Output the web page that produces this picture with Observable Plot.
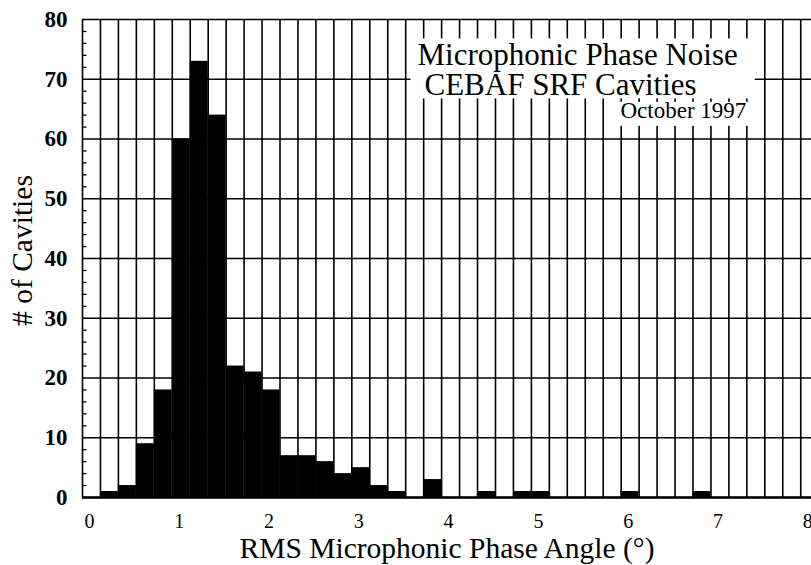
<!DOCTYPE html>
<html>
<head>
<meta charset="utf-8">
<script src="https://cdn.jsdelivr.net/npm/d3@7"></script>
<script src="https://cdn.jsdelivr.net/npm/@observablehq/plot@0.6"></script>
<style>
html, body { margin: 0; padding: 0; background: #fff; overflow: hidden; }
</style>
</head>
<body>
<div id="chart"></div>
<script>
// ---- data ----
const binLower = [0.0,0.2,0.4,0.6,0.8,1.0,1.2,1.4,1.6,1.8,2.0,2.2,2.4,2.6,2.8,3.0,3.2,3.4,3.6,3.8,
                  4.0,4.2,4.4,4.6,4.8,5.0,5.2,5.4,5.6,5.8,6.0,6.2,6.4,6.6,6.8,7.0,7.2,7.4,7.6,7.8];
const binUpper = [0.2,0.4,0.6,0.8,1.0,1.2,1.4,1.6,1.8,2.0,2.2,2.4,2.6,2.8,3.0,3.2,3.4,3.6,3.8,4.0,
                  4.2,4.4,4.6,4.8,5.0,5.2,5.4,5.6,5.8,6.0,6.2,6.4,6.6,6.8,7.0,7.2,7.4,7.6,7.8,8.0];
const counts   = [0,1,2,9,18,60,73,64,22,21,18,7,7,6,4,5,2,1,0,3,
                  0,0,1,0,1,1,0,0,0,0,1,0,0,0,1,0,0,0,0,0];
const binEdges = [0.0,0.2,0.4,0.6,0.8,1.0,1.2,1.4,1.6,1.8,2.0,2.2,2.4,2.6,2.8,3.0,3.2,3.4,3.6,3.8,
                  4.0,4.2,4.4,4.6,4.8,5.0,5.2,5.4,5.6,5.8,6.0,6.2,6.4,6.6,6.8,7.0,7.2,7.4,7.6,7.8,8.0];
const yGrid = [0,10,20,30,40,50,60,70,80];
const yTickLabels = ["0","10","20","30","40","50","60","70","80"];
const yMinor = [2,4,6,8,12,14,16,18,22,24,26,28,32,34,36,38,42,44,46,48,52,54,56,58,62,64,66,68,72,74,76,78];
const xTicks = [0,1,2,3,4,5,6,7,8];
const xTickLabels = ["0","1","2","3","4","5","6","7","8"];
const titleLines = ["Microphonic Phase Noise", "CEBAF SRF Cavities"];
const dateLine = "October 1997";
const xLabel = "RMS Microphonic Phase Angle (°)";
const yLabel = "# of Cavities";

const bins = counts.map((c, i) => ({x1: binLower[i], x2: binUpper[i], n: c}));

const serif = "'Liberation Serif', 'Times New Roman', Times, serif";
const T = {fill: "black", fontFamily: serif, lineAnchor: "middle"};

const plot = Plot.plot({
  width: 811,
  height: 565,
  marginLeft: 82,
  marginRight: 0,
  marginTop: 19,
  marginBottom: 68,
  x: {domain: [0, 8.12], axis: null},
  y: {domain: [0, 80], axis: null},
  style: {fontFamily: serif, background: "white", color: "black"},
  marks: [
    Plot.rectY(bins, {x1: "x1", x2: "x2", y: "n", fill: "black"}),
    Plot.ruleX(binEdges, {stroke: "black", strokeWidth: 1.6}),
    Plot.ruleY(yGrid, {stroke: "black", strokeWidth: 1.6}),
    Plot.ruleY([0], {stroke: "black", strokeWidth: 2.5}),
    Plot.ruleY(yMinor, {x1: 0, x2: 0.05, stroke: "black", strokeWidth: 1.3}),
    Plot.text(xTicks, {...T, x: d => d, text: (d, i) => xTickLabels[i], frameAnchor: "bottom", dy: 24, dx: 7, fontSize: 20, textAnchor: "middle"}),
    Plot.text(yGrid, {...T, y: d => d, text: (d, i) => yTickLabels[i], frameAnchor: "left", dx: -15, textAnchor: "end", fontSize: 23, fontWeight: "bold"}),
    Plot.text([xLabel], {...T, frameAnchor: "bottom", dy: 51, fontSize: 29.5, textAnchor: "middle"}),
    Plot.text([yLabel], {...T, frameAnchor: "left", rotate: -90, dx: -60, dy: -8, fontSize: 29.5, textAnchor: "middle"}),
    Plot.text([titleLines[0]], {...T, frameAnchor: "top-left", dx: 335, dy: 36, textAnchor: "start", fontSize: 31}),
    Plot.text([titleLines[1]], {...T, frameAnchor: "top-left", dx: 342, dy: 66, textAnchor: "start", fontSize: 31}),
    Plot.text([dateLine], {...T, frameAnchor: "top-left", dx: 538, dy: 91, textAnchor: "start", fontSize: 23})
  ]
});

document.getElementById("chart").appendChild(plot);

// white boxes behind the title block and the date line (they hide the grid)
(function () {
  const svg = plot.tagName.toLowerCase() === "svg" ? plot : plot.querySelector("svg");
  const sr = svg.getBoundingClientRect();
  const texts = Array.from(svg.querySelectorAll("text"));
  const find = s => texts.find(t => t.textContent === s);
  const boxOf = t => { const r = t.getBoundingClientRect(); return {l: r.left - sr.left, t: r.top - sr.top, r: r.right - sr.left, b: r.bottom - sr.top}; };
  const ns = "http://www.w3.org/2000/svg";
  const t1 = find(titleLines[0]), t2 = find(titleLines[1]), t3 = find(dateLine);
  let anchorGroup = t1; while (anchorGroup.parentNode !== svg) anchorGroup = anchorGroup.parentNode;
  function addBox(els, pad) {
    const bs = els.map(boxOf);
    const l = Math.min(...bs.map(b => b.l)) - pad[0];
    const t = Math.min(...bs.map(b => b.t)) - pad[1];
    const r = Math.max(...bs.map(b => b.r)) + pad[2];
    const b = Math.max(...bs.map(b => b.b)) + pad[3];
    const rect = document.createElementNS(ns, "rect");
    rect.setAttribute("x", l); rect.setAttribute("y", t);
    rect.setAttribute("width", r - l); rect.setAttribute("height", b - t);
    rect.setAttribute("fill", "white");
    svg.insertBefore(rect, anchorGroup);
  }
  addBox([t1, t2], [7, -1, 17, -4]);
  addBox([t3], [5, -4, 3, 3]);
})();
</script>
</body>
</html>
